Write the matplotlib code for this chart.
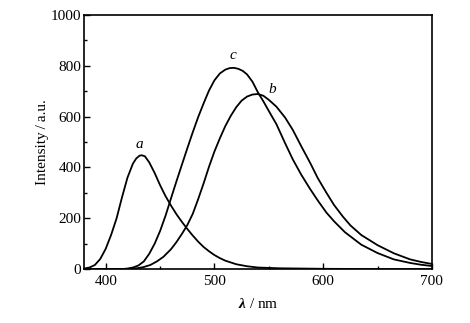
import matplotlib
matplotlib.use("Agg")
import matplotlib.pyplot as plt
from matplotlib.ticker import MultipleLocator

# Curve a
wl_a = [380, 385, 390, 395, 400, 405, 410, 415, 420, 425, 428, 431, 433, 436, 440, 445, 450, 455,
        460, 465, 470, 475, 480, 485, 490, 495, 500, 505, 510, 520, 530, 540, 560, 580, 600,
        650, 700]
int_a = [2, 6, 16, 40, 80, 135, 200, 283, 360, 415, 435, 446, 448, 444, 420, 378, 330, 287,
         250, 216, 186, 158, 132, 108, 87, 70, 55, 43, 33, 19, 11, 6, 3, 2, 1,
         0, 0]

# Curve b
wl_b = [380, 420, 426, 430, 435, 441, 447, 453, 460, 465, 470, 475, 480, 485, 490, 495, 500, 505,
        510, 515, 520, 525, 530, 535, 540, 545, 550, 557, 565, 572, 580, 588, 595, 603, 610,
        618, 625, 635, 650, 665, 680, 690, 700]
int_b = [0, 0, 2, 4, 8, 16, 30, 48, 78, 106, 138, 173, 217, 275, 337, 403, 463, 515,
         563, 603, 637, 663, 679, 687, 689, 682, 666, 639, 596, 548, 482, 418, 358, 300, 252,
         207, 172, 134, 94, 62, 38, 28, 20]

# Curve c
wl_c = [380, 400, 415, 420, 425, 430, 435, 440, 445, 450, 455, 460, 465, 470, 475, 480, 485, 490,
        495, 500, 505, 510, 514, 518, 522, 526, 530, 535, 540, 545, 550, 557, 565, 572, 580,
        588, 595, 603, 610, 620, 635, 650, 665, 680, 690, 700]
int_c = [0, 0, 0, 2, 6, 14, 30, 60, 100, 150, 210, 278, 345, 410, 475, 538, 598, 652,
         703, 743, 770, 785, 791, 792, 788, 780, 766, 737, 695, 660, 622, 570, 495, 432, 370,
         315, 270, 222, 188, 145, 96, 63, 38, 24, 17, 12]

labels = ["a", "b", "c"]
label_pos = [(430.5, 492), (553.5, 705), (517, 842)]

x_ticks = [400, 500, 600, 700]
y_ticks = [0, 200, 400, 600, 800, 1000]

plt.rcParams["font.family"] = ["Liberation Serif", "DejaVu Serif"]
plt.rcParams["mathtext.fontset"] = "custom"
plt.rcParams["mathtext.rm"] = "Liberation Serif"
plt.rcParams["mathtext.it"] = "Liberation Serif:italic"
plt.rcParams["mathtext.bf"] = "Liberation Serif:bold:italic"

fig = plt.figure(figsize=(4.70, 3.23), dpi=100)
ax = fig.add_axes([0.1787, 0.167, 0.919 - 0.1787, 0.9536 - 0.167])

for wl, it in [(wl_a, int_a), (wl_b, int_b), (wl_c, int_c)]:
    ax.plot(wl, it, color="black", lw=1.3, solid_joinstyle="round")

for lab, (lx, ly) in zip(labels, label_pos):
    ax.text(lx, ly, lab, fontstyle="italic", fontsize=11, ha="center", va="center")

ax.set_xlim(380, 700)
ax.set_ylim(0, 1000)
ax.set_xticks(x_ticks)
ax.set_yticks(y_ticks)
ax.xaxis.set_minor_locator(MultipleLocator(50))
ax.yaxis.set_minor_locator(MultipleLocator(100))
ax.tick_params(which="both", direction="in", top=False, right=False, labelsize=11, width=1.0)
ax.tick_params(which="major", length=4)
ax.tick_params(axis="x", which="major", pad=4)
ax.tick_params(axis="y", which="major", pad=2)
ax.tick_params(which="minor", length=2.5)
for s in ax.spines.values():
    s.set_linewidth(1.2)

ax.set_ylabel("Intensity\u2009/\u2009a.u.", fontsize=11, labelpad=1)
ax.set_xlabel(r"$\boldsymbol{\lambda}$ / nm", fontsize=11, labelpad=7)

fig.savefig("out.png", dpi=100)
